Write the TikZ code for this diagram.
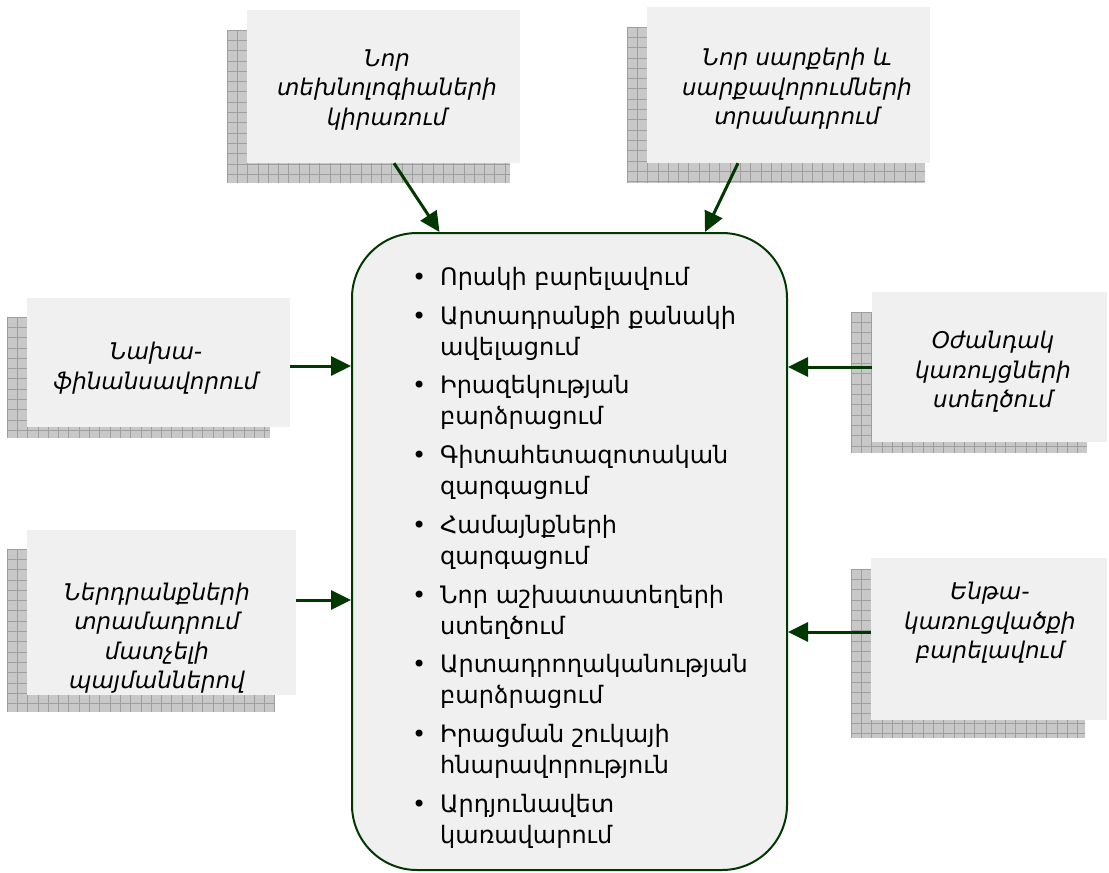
\documentclass[tikz,border=0pt]{standalone}
\usepackage{fontspec}
\newfontfamily\armfont{DejaVu Sans}
\usetikzlibrary{arrows.meta}

\definecolor{edgegreen}{RGB}{0,56,0}
\definecolor{boxfill}{RGB}{240,240,240}
\definecolor{shadefill}{RGB}{200,200,200}
\definecolor{shadeline}{RGB}{158,158,158}

\newcommand\itm{\llap{\textbullet\hspace{14pt}}}

% grey chequered shadow behind a panel: x1 y1 x2 y2
\newcommand\gridshadow[4]{%
  \fill[shadefill] (#1,#2) rectangle (#3,#4);
  \begin{scope}
    \clip (#1,#2) rectangle (#3,#4);
    \draw[shadeline, line width=0.8pt, shift={(#1,#2)}]
      (0,0) grid[step=10.3pt] (#3-#1,#4-#2);
  \end{scope}
}

\tikzset{
  panel/.style={fill=boxfill, draw=none, inner sep=0pt},
  lbl/.style={font=\armfont\itshape\fontsize{23}{29.5}\selectfont, align=center, inner sep=0pt},
  feed/.style={draw=edgegreen, line width=3pt, -{Triangle[length=20pt,width=19pt]}},
  hubbox/.style={fill=boxfill, draw=edgegreen, line width=2pt, rounded corners=65pt, inner sep=0pt},
  hubtext/.style={font=\armfont\fontsize{24}{31}\selectfont, align=left, inner sep=0pt},
}

\begin{document}
\begin{tikzpicture}[x=1pt, y=-1pt]
\useasboundingbox (0,0) rectangle (1109,873);

% shadows
\gridshadow{227}{30}{510}{183}
\gridshadow{627}{27}{925}{183}
\gridshadow{7}{317}{270}{438}
\gridshadow{851}{312}{1087}{453}
\gridshadow{7}{549}{275}{712}
\gridshadow{851}{569}{1085}{738}

% light panels
\node[panel, minimum width=273pt, minimum height=153pt] (tlp) at (383.5,86.5) {};
\node[panel, minimum width=283pt, minimum height=156pt] (trp) at (788.5,85) {};
\node[panel, minimum width=263pt, minimum height=129pt] (lmp) at (158.5,362.5) {};
\node[panel, minimum width=235pt, minimum height=150pt] (rmp) at (989.5,367) {};
\node[panel, minimum width=269pt, minimum height=165pt] (lbp) at (161.5,612.5) {};
\node[panel, minimum width=236pt, minimum height=162pt] (rbp) at (989,639) {};

% panel texts
\node[lbl] (tlt) at (387,90) {Նոր\\տեխնոլոգիաների\\կիրառում};
\node[lbl] (trt) at (797,89) {Նոր սարքերի և\\սարքավորումների\\տրամադրում};
\node[lbl] (lmt) at (156,368) {Նախա-\\ֆինանսավորում};
\node[lbl] (rmt) at (993,372) {Օժանդակ\\կառույցների\\ստեղծում};
\node[lbl] (lbt) at (157,638) {Ներդրանքների\\տրամադրում\\մատչելի\\պայմաններով};
\node[lbl] (rbt) at (990,623) {Ենթա-\\կառուցվածքի\\բարելավում};

% central rounded box
\node[hubbox, minimum width=435pt, minimum height=637pt] (hub) at (569.5,551.5) {};
\node[hubtext, anchor=north west] (list) at (440,267) {%
\itm Որակի բարելավում\\[7.75pt]
\itm Արտադրանքի քանակի\\ավելացում\\[7.75pt]
\itm Իրազեկության\\բարձրացում\\[7.75pt]
\itm Գիտահետազոտական\\զարգացում\\[7.75pt]
\itm Համայնքների\\զարգացում\\[7.75pt]
\itm Նոր աշխատատեղերի\\ստեղծում\\[7.75pt]
\itm Արտադրողականության\\բարձրացում\\[7.75pt]
\itm Իրացման շուկայի\\հնարավորություն\\[7.75pt]
\itm Արդյունավետ\\կառավարում};

% connectors
\draw[feed] ([xshift=10.5pt]tlp.south) -- ([xshift=-130pt]hub.north);
\draw[feed] ([xshift=-50.5pt]trp.south) -- ([xshift=135.5pt]hub.north);
\draw[feed] ([yshift=-3.5pt]lmp.east) -- ([yshift=-3.5pt]lmp.east -| hub.west);
\draw[feed] (rmp.west) -- (rmp.west -| hub.east);
\draw[feed] ([yshift=12.5pt]lbp.east) -- ([yshift=12.5pt]lbp.east -| hub.west);
\draw[feed] ([yshift=7pt]rbp.west) -- ([yshift=7pt]rbp.west -| hub.east);
\end{tikzpicture}
\end{document}
